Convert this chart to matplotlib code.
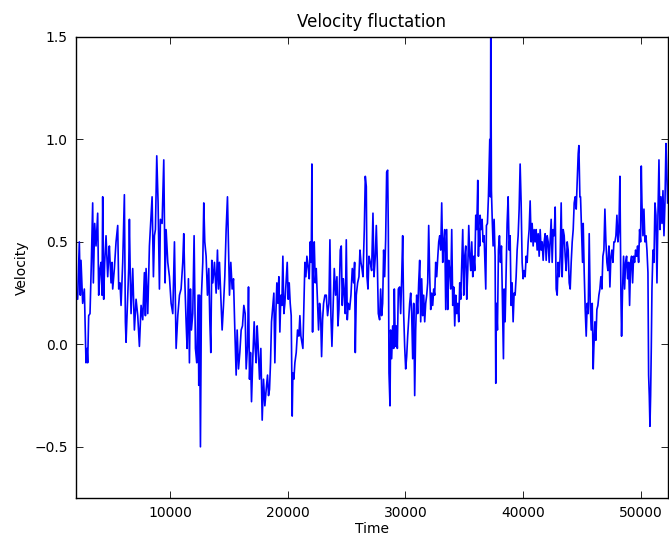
import numpy as np
import matplotlib
matplotlib.use("Agg")
import matplotlib.pyplot as plt

# time stamps and velocity values
time = [
    2000, 2141, 2283, 2368, 2425, 2567, 2709, 2850, 2935, 2992, 3078, 3191, 3305, 3418, 3475,
    3588, 3702, 3843, 3929, 4042, 4127, 4212, 4269, 4354, 4439, 4553, 4695, 4780, 4836, 4978,
    5063, 5120, 5262, 5404, 5546, 5631, 5744, 5829, 5971, 6113, 6198, 6255, 6397, 6482, 6539,
    6624, 6680, 6822, 6964, 7106, 7248, 7390, 7475, 7532, 7673, 7815, 7900, 7957, 8099, 8241,
    8383, 8468, 8581, 8666, 8751, 8865, 8978, 9092, 9177, 9319, 9461, 9574, 9659, 9801, 9943,
    10085, 10227, 10369, 10511, 10653, 10795, 10933, 11075, 11160, 11245, 11359, 11444, 11557,
    11642, 11727, 11812, 11926, 12039, 12153, 12266, 12380, 12437, 12493, 12578, 12664, 12777,
    12862, 12947, 13061, 13174, 13288, 13373, 13458, 13543, 13628, 13770, 13912, 14025, 14110,
    14196, 14309, 14422, 14536, 14649, 14763, 14876, 14961, 15047, 15160, 15274, 15387, 15501,
    15614, 15699, 15813, 15926, 16040, 16153, 16267, 16380, 16465, 16579, 16664, 16749, 16834,
    16919, 17033, 17146, 17231, 17316, 17401, 17486, 17600, 17713, 17827, 17940, 18054, 18167,
    18281, 18366, 18450, 18535, 18620, 18734, 18819, 18904, 18989, 19074, 19159, 19244, 19329,
    19415, 19500, 19585, 19670, 19755, 19869, 19954, 20039, 20124, 20209, 20294, 20379, 20436,
    20521, 20606, 20720, 20833, 20947, 21032, 21117, 21202, 21287, 21372, 21457, 21542, 21627,
    21741, 21826, 21911, 21996, 22053, 22110, 22166, 22252, 22337, 22422, 22507, 22620, 22706,
    22791, 22876, 22961, 23046, 23159, 23273, 23386, 23500, 23585, 23670, 23755, 23840, 23954,
    24067, 24181, 24266, 24351, 24464, 24550, 24635, 24720, 24805, 24890, 24975, 25060, 25145,
    25259, 25372, 25486, 25599, 25684, 25741, 25826, 25940, 26053, 26138, 26223, 26308, 26394,
    26507, 26592, 26677, 26734, 26819, 26904, 27017, 27131, 27244, 27330, 27443, 27528, 27613,
    27698, 27811, 27896, 27981, 28066, 28152, 28237, 28322, 28407, 28492, 28549, 28606, 28691,
    28747, 28832, 28918, 29003, 29059, 29144, 29230, 29315, 29400, 29513, 29598, 29684, 29769,
    29854, 29939, 30024, 30109, 30194, 30279, 30364, 30450, 30535, 30620, 30705, 30790, 30875,
    30960, 31045, 31130, 31216, 31301, 31386, 31471, 31556, 31641, 31726, 31811, 31896, 31981,
    32067, 32152, 32237, 32322, 32407, 32492, 32577, 32662, 32747, 32833, 32918, 33003, 33088,
    33173, 33258, 33343, 33428, 33513, 33598, 33684, 33769, 33854, 33939, 34024, 34109, 34194,
    34279, 34364, 34450, 34535, 34620, 34705, 34790, 34875, 34960, 35045, 35131, 35216, 35301,
    35386, 35471, 35556, 35641, 35726, 35811, 35896, 35982, 36067, 36152, 36209, 36266, 36322,
    36350, 36435, 36520, 36605, 36690, 36775, 36832, 36889, 36974, 37059, 37115, 37172, 37229,
    37257, 37314, 37371, 37456, 37541, 37626, 37683, 37740, 37825, 37910, 37995, 38080, 38165,
    38250, 38335, 38392, 38477, 38562, 38647, 38733, 38818, 38903, 38988, 39073, 39158, 39243,
    39328, 39413, 39499, 39584, 39669, 39754, 39839, 39924, 40009, 40094, 40179, 40264, 40350,
    40435, 40520, 40605, 40690, 40775, 40860, 40945, 41030, 41116, 41201, 41286, 41371, 41456,
    41541, 41626, 41711, 41796, 41881, 41967, 42052, 42137, 42222, 42307, 42392, 42477, 42562,
    42648, 42733, 42818, 42903, 42988, 43073, 43158, 43243, 43328, 43414, 43499, 43584, 43669,
    43754, 43839, 43924, 44009, 44094, 44180, 44265, 44350, 44435, 44520, 44605, 44690, 44747,
    44832, 44888, 44973, 45058, 45115, 45200, 45285, 45370, 45455, 45540, 45625, 45711, 45796,
    45881, 45966, 46023, 46108, 46193, 46278, 46363, 46448, 46533, 46618, 46704, 46789, 46874,
    46959, 47044, 47129, 47214, 47299, 47384, 47470, 47555, 47640, 47725, 47810, 47895, 47980,
    48065, 48150, 48236, 48321, 48377, 48462, 48548, 48633, 48718, 48803, 48888, 48973, 49058,
    49143, 49228, 49314, 49399, 49484, 49569, 49654, 49739, 49824, 49909, 49994, 50051, 50108,
    50193, 50278, 50363, 50448, 50533, 50619, 50675, 50732, 50789, 50846, 50902, 50959, 51044,
    51129, 51214, 51299, 51384, 51469, 51555, 51640, 51725, 51810, 51895, 51980, 52065, 52150,
    52207, 52292,
]
velocity = [
    0.25, 0.22, 0.50, 0.24, 0.41, 0.20, 0.27, -0.09, -0.02, -0.09, 0.14, 0.15, 0.40, 0.69, 0.30,
    0.59, 0.48, 0.64, 0.24, 0.37, 0.40, 0.24, 0.72, 0.22, 0.40, 0.53, 0.33, 0.43, 0.48, 0.30,
    0.40, 0.27, 0.37, 0.50, 0.58, 0.27, 0.30, 0.19, 0.40, 0.73, 0.11, 0.01, 0.24, 0.37, 0.61,
    0.30, 0.15, 0.37, 0.07, 0.22, 0.14, -0.01, 0.11, 0.19, 0.12, 0.35, 0.14, 0.37, 0.15, 0.48,
    0.63, 0.72, 0.33, 0.53, 0.56, 0.92, 0.69, 0.27, 0.61, 0.59, 0.90, 0.30, 0.56, 0.40, 0.33,
    0.20, 0.15, 0.50, -0.02, 0.14, 0.24, 0.27, 0.40, 0.54, 0.32, 0.11, -0.02, 0.32,
    -0.09, 0.27, 0.07, 0.15, 0.53, -0.02, -0.09, 0.24, -0.20, 0.24, -0.50, 0.24, 0.40,
    0.69, 0.50, 0.43, 0.24, 0.37, 0.12, -0.04, 0.41, 0.30, 0.40, 0.25, 0.46, 0.27,
    0.40, 0.24, 0.07, 0.19, 0.33, 0.56, 0.72, 0.48, 0.24, 0.40, 0.27, 0.32, 0.07,
    -0.15, 0.07, -0.12, -0.04, 0.07, 0.09, 0.19, 0.15, -0.12, -0.01, 0.28, -0.17, -0.04,
    -0.28, -0.06, 0.11, -0.02, -0.09, 0.09, -0.01, -0.17, -0.02, -0.37, -0.17, -0.30, -0.22,
    -0.15, -0.25, -0.22, -0.09, 0.11, 0.19, 0.25, -0.09, 0.15, 0.30, 0.20, 0.33, 0.06,
    0.24, 0.19, 0.43, 0.15, 0.20, 0.32, 0.40, 0.22, 0.30, 0.20, 0.14, -0.35, -0.14,
    -0.17, -0.09, -0.04, 0.07, 0.04, 0.14, 0.04, 0.01, -0.02, 0.19, 0.40, 0.33, 0.43,
    0.37, 0.32, 0.50, 0.40, 0.88, 0.06, 0.40, 0.50, 0.30, 0.37, 0.24, 0.07, 0.20,
    0.15, -0.06, 0.12, 0.20, 0.24, 0.24, 0.14, 0.20, 0.51, 0.14, -0.01, 0.15, 0.37,
    0.24, 0.33, 0.09, 0.17, 0.46, 0.48, 0.19, 0.32, 0.25, 0.15, 0.51, 0.12, 0.20,
    0.17, 0.24, 0.37, 0.30, 0.40, -0.04, 0.24, 0.30, 0.33, 0.46, 0.40, 0.37, 0.33,
    0.56, 0.82, 0.77, 0.33, 0.27, 0.43, 0.40, 0.36, 0.64, 0.33, 0.43, 0.58, 0.40,
    0.15, 0.12, 0.27, 0.14, 0.20, 0.46, 0.33, 0.51, 0.84, 0.85, 0.56, -0.14, -0.30,
    0.07, -0.07, 0.09, -0.02, 0.27, -0.01, 0.09, -0.02, 0.27, 0.28, 0.15, 0.32, 0.53,
    0.15, -0.01, -0.12, -0.06, 0.04, 0.12, 0.20, 0.25, 0.15, -0.07, 0.20, -0.25, 0.07,
    0.24, 0.15, 0.30, 0.41, 0.11, 0.32, 0.14, 0.24, 0.11, 0.20, 0.24, 0.30, 0.58,
    0.33, 0.17, 0.25, 0.19, 0.27, 0.24, 0.40, 0.33, 0.42, 0.50, 0.53, 0.46, 0.69,
    0.40, 0.50, 0.56, 0.17, 0.56, 0.17, 0.41, 0.36, 0.27, 0.56, 0.19, 0.28, 0.09,
    0.24, 0.15, 0.20, 0.11, 0.30, 0.22, 0.40, 0.56, 0.24, 0.43, 0.48, 0.22, 0.36,
    0.58, 0.43, 0.36, 0.50, 0.33, 0.43, 0.36, 0.63, 0.56, 0.80, 0.43, 0.56, 0.48,
    0.63, 0.56, 0.61, 0.50, 0.53, 0.38, 0.27, 0.58, 0.59, 0.72, 0.85, 1.00, 0.72,
    1.60, 0.75, 0.63, 0.48, 0.61, 0.43, -0.19, 0.20, 0.07, 0.46, 0.53, 0.40, 0.48,
    0.20, -0.07, 0.27, 0.11, 0.36, 0.59, 0.72, 0.46, 0.53, 0.19, 0.30, 0.11, 0.25,
    0.24, 0.33, 0.46, 0.53, 0.66, 0.88, 0.69, 0.40, 0.32, 0.36, 0.33, 0.43, 0.40,
    0.50, 0.56, 0.70, 0.50, 0.59, 0.48, 0.56, 0.50, 0.56, 0.46, 0.54, 0.43, 0.56,
    0.46, 0.50, 0.41, 0.50, 0.54, 0.41, 0.53, 0.50, 0.40, 0.50, 0.61, 0.40, 0.56,
    0.53, 0.67, 0.27, 0.24, 0.40, 0.33, 0.43, 0.69, 0.33, 0.56, 0.53, 0.43, 0.36,
    0.50, 0.46, 0.30, 0.27, 0.40, 0.50, 0.56, 0.69, 0.72, 0.66, 0.79, 0.93, 0.97,
    0.72, 0.72, 0.56, 0.40, 0.59, 0.35, 0.17, 0.04, 0.20, 0.15, 0.54, 0.20, 0.07,
    0.20, -0.12, -0.01, 0.11, 0.02, 0.17, 0.19, 0.24, 0.27, 0.33, 0.27, 0.43, 0.46,
    0.66, 0.50, 0.40, 0.36, 0.48, 0.28, 0.43, 0.46, 0.40, 0.50, 0.50, 0.53, 0.63,
    0.50, 0.56, 0.82, 0.24, 0.04, 0.27, 0.43, 0.27, 0.40, 0.43, 0.32, 0.40, 0.19,
    0.40, 0.43, 0.30, 0.43, 0.40, 0.46, 0.43, 0.48, 0.40, 0.56, 0.50, 0.87, 0.69,
    0.53, 0.66, 0.50, 0.53, 0.46, 0.35, -0.15, -0.25, -0.40, -0.25, -0.02, 0.27, 0.46,
    0.40, 0.69, 0.63, 0.30, 0.63, 0.90, 0.56, 0.72, 0.59, 0.75, 0.53, 0.69, 0.98,
    0.88, 0.69,
]

plt.rcParams['font.size'] = 10
plt.rcParams['xtick.direction'] = 'in'
plt.rcParams['ytick.direction'] = 'in'
plt.rcParams['xtick.top'] = True
plt.rcParams['ytick.right'] = True

fig = plt.figure(figsize=(6.69, 5.38), dpi=100)
ax = fig.add_axes([0.1136, 0.0743, 0.8845, 0.857])

ax.plot(time, velocity, color='#0000ff', linewidth=1.2)

ax.set_xlim(2000, 52300)
ax.set_ylim(-0.75, 1.5)
ax.set_xticks([10000, 20000, 30000, 40000, 50000])
ax.set_yticks([-0.5, 0.0, 0.5, 1.0, 1.5])
ax.tick_params(length=5, width=0.6, pad=6)
for s in ax.spines.values():
    s.set_linewidth(1.0)

ax.set_title('Velocity fluctation', fontsize=12, pad=7)
ax.set_xlabel('Time', labelpad=1)
ax.set_ylabel('Velocity', labelpad=4)

fig.savefig('out.png', dpi=100)
